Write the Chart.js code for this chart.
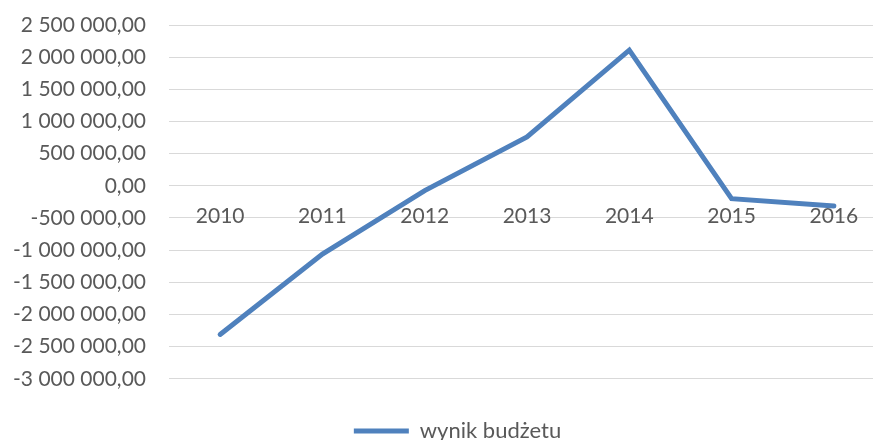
<!DOCTYPE html>
<html>
<head>
<meta charset="utf-8">
<script src="https://cdn.jsdelivr.net/npm/chart.js@4/dist/chart.umd.min.js"></script>
<style>
  html, body { margin: 0; padding: 0; background: #fff; overflow: hidden; }
  #wrap { width: 916px; height: 440px; }
</style>
</head>
<body>
<div id="wrap"><canvas id="c" width="916" height="440"></canvas></div>
<script>
// dane z wykresu
var years = ["2010", "2011", "2012", "2013", "2014", "2015", "2016"];
var wynik = [-2310000, -1060000, -75000, 760000, 2110000, -200000, -315000];
var seriesName = "wynik budżetu";

var lineColor = "#4F81BD";
var textColor = "#595959";
var gridColor = "#D9D9D9";
var fontFamily = "Lato, 'Open Sans', sans-serif";

function fmt(v) {
  var parts = Math.abs(v).toFixed(2).split(".");
  var whole = parts[0].replace(/\B(?=(\d{3})+(?!\d))/g, " ");
  return (v < 0 ? "-" : "") + whole + "," + parts[1];
}

// legenda w oryginale jest lekko przesunięta w prawo
var legendShift = {
  id: "legendShift",
  afterLayout: function(c) {
    c.legend.left += 15;
    c.legend.right += 15;
  }
};

var ctx = document.getElementById("c").getContext("2d");
var chart = new Chart(ctx, {
  type: "line",
  data: {
    labels: years,
    datasets: [{
      label: seriesName,
      data: wynik,
      borderColor: lineColor,
      backgroundColor: lineColor,
      borderWidth: 5,
      borderCapStyle: "round",
      borderJoinStyle: "miter",
      pointRadius: 0,
      tension: 0
    }]
  },
  plugins: [legendShift],
  options: {
    responsive: false,
    animation: false,
    devicePixelRatio: 1,
    layout: { padding: { top: 25, right: 31, bottom: -12, left: 0 } },
    plugins: {
      tooltip: { enabled: false },
      legend: {
        position: "bottom",
        title: { display: true, text: " ", font: { size: 1 }, padding: { top: 40, bottom: 0 } },
        labels: {
          color: textColor,
          font: { family: fontFamily, size: 22 },
          boxWidth: 55,
          boxHeight: 5,
          useBorderRadius: true,
          borderRadius: 2.5,
          padding: 0,
          generateLabels: function(c) {
            return c.data.datasets.map(function(ds, i) {
              return {
                text: ds.label,
                fillStyle: ds.borderColor,
                strokeStyle: ds.borderColor,
                lineWidth: 0,
                fontColor: textColor,
                datasetIndex: i
              };
            });
          }
        }
      }
    },
    scales: {
      x: {
        position: { y: 0 },
        offset: true,
        grid: { display: false, drawTicks: false },
        border: { display: true, color: gridColor, width: 1 },
        ticks: {
          color: textColor,
          font: { family: fontFamily, size: 21 },
          padding: 18,
          maxRotation: 0
        },
        afterFit: function(scale) { scale.height = 0; }
      },
      y: {
        min: -3000000,
        max: 2500000,
        grid: { color: gridColor, lineWidth: 1, drawTicks: false },
        border: { display: false },
        ticks: {
          stepSize: 500000,
          color: textColor,
          font: { family: fontFamily, size: 21 },
          padding: 23,
          callback: function(v) { return fmt(v); }
        },
        afterFit: function(scale) {
          scale.width = 169;
          scale.paddingTop = 0;
        }
      }
    }
  }
});
</script>
</body>
</html>
